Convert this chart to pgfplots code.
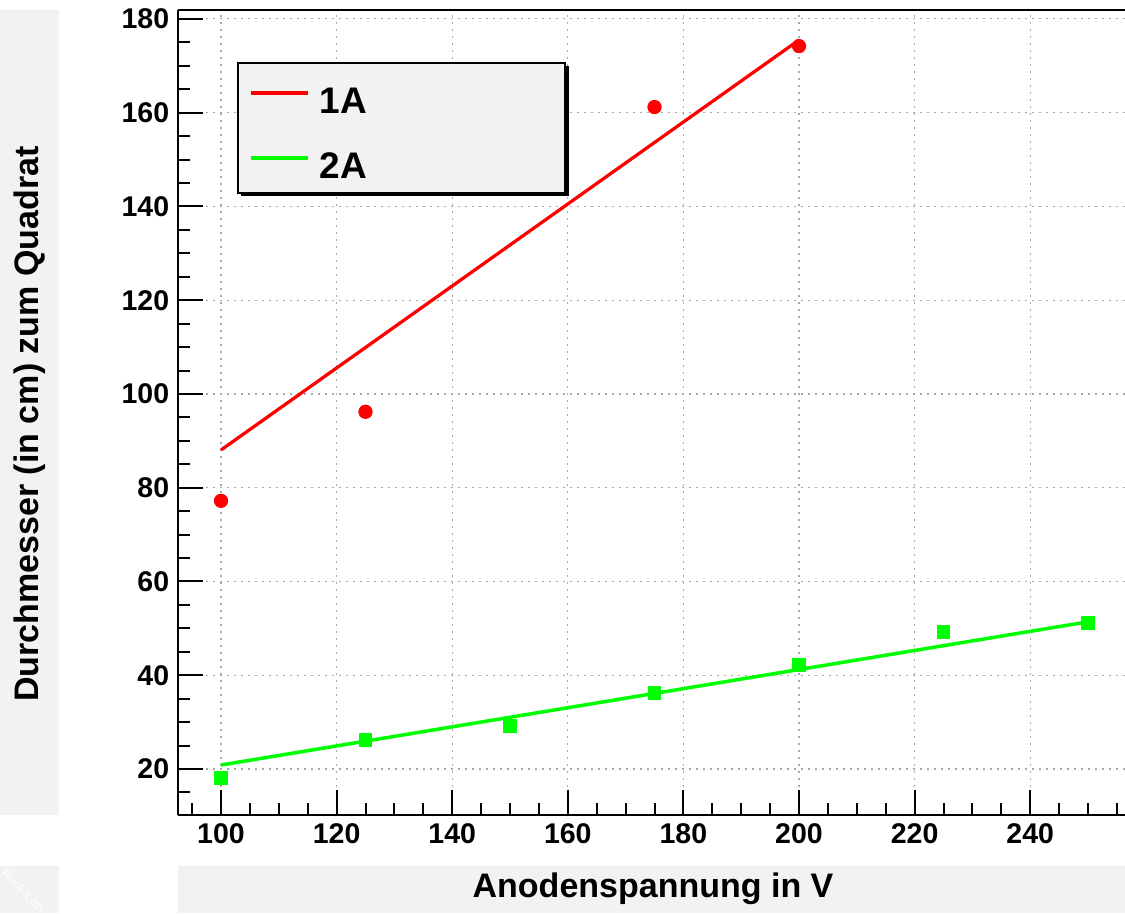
\documentclass[border=0pt]{standalone}
\usepackage{fontspec}
\setmainfont{Liberation Sans}
\usepackage{pgfplots}
\pgfplotsset{compat=1.18}
\definecolor{panel}{HTML}{F2F2F2}
\definecolor{gridgray}{HTML}{A8A8A8}
\begin{document}
\begin{tikzpicture}
% grey label panels
\fill[panel] (-71.2pt,0pt) rectangle (-47.6pt,322pt);
\fill[panel] (0pt,-20.4pt) rectangle (378.8pt,-39.2pt);
\fill[panel] (-71.2pt,-20.4pt) rectangle (-47.6pt,-39.2pt);
\node[white, rotate=-45, font=\fontsize{5}{6}\selectfont] at (-62pt,-30pt) {RooFiLab};
\begin{axis}[
  scale only axis, width=378.8pt, height=322pt,
  xmin=92.56, xmax=256.4, ymin=10.19, ymax=181.9,
  axis x line*=box, axis y line*=left,
  axis line style={-, line width=1pt},
  tick pos=left, tick align=inside,
  xtick={100,120,...,240}, ytick={20,40,...,180},
  minor xtick={95,100,...,255}, minor ytick={15,20,...,180},
  major tick length=10pt, minor tick length=5pt,
  every tick/.style={black, line width=0.8pt},
  grid=major,
  major grid style={gridgray, line width=0.45pt, dash pattern=on 0.9pt off 1.9pt},
  ticklabel style={font=\fontsize{11.4}{13}\selectfont\bfseries},
  /pgf/number format/assume math mode=true,
  xlabel={Anodenspannung in V},
  ylabel={Durchmesser (in cm) zum Quadrat},
  every axis x label/.style={at={(axis description cs:0.5016,-0.0919)}, anchor=center,
    font=\fontsize{13.6}{16}\selectfont\bfseries},
  every axis y label/.style={at={(axis description cs:-0.1563,0.4857)}, anchor=center, rotate=90,
    font=\fontsize{13.6}{16}\selectfont\bfseries},
  legend style={at={(axis description cs:0.0623,0.9354)}, anchor=north west,
    fill=panel, draw=black, line width=0.8pt,
    inner xsep=4.4pt, inner ysep=3pt, row sep=6pt, column sep=4.2pt,
    font=\fontsize{14.8}{17}\selectfont\bfseries,
    nodes={inner sep=0pt, text height=17.15pt, text depth=2.85pt, text width=93.6pt}},
  legend cell align=left,
  legend image code/.code={\draw[#1] (0pt,1pt) -- (22.8pt,1pt);},
]
% legend shadow
\fill[black] (axis description cs:0.0665,0.9304) rectangle (axis description cs:0.4129,0.7689);
\addplot[red, line width=1.3pt] coordinates {(100,88.05) (200,175.5)};
\addlegendentry{1A}
\addplot[green, line width=1.4pt] coordinates {(100,20.85) (250,51.4)};
\addlegendentry{2A}
\addplot[only marks, mark=*, mark size=2.65pt, red, forget plot] coordinates {
  (100,77.2) (125,96.2) (175,161.2) (200,174.2)};
\addplot[only marks, mark=square*, mark size=2.5pt, green, forget plot] coordinates {
  (100,18.1) (125,26.2) (150,29.2) (175,36.2) (200,42.2) (225,49.2) (250,51.1)};
\end{axis}
\pgfresetboundingbox
\path[use as bounding box] (-71.2pt,-39.2pt) rectangle (378.8pt,326pt);
\end{tikzpicture}
\end{document}
